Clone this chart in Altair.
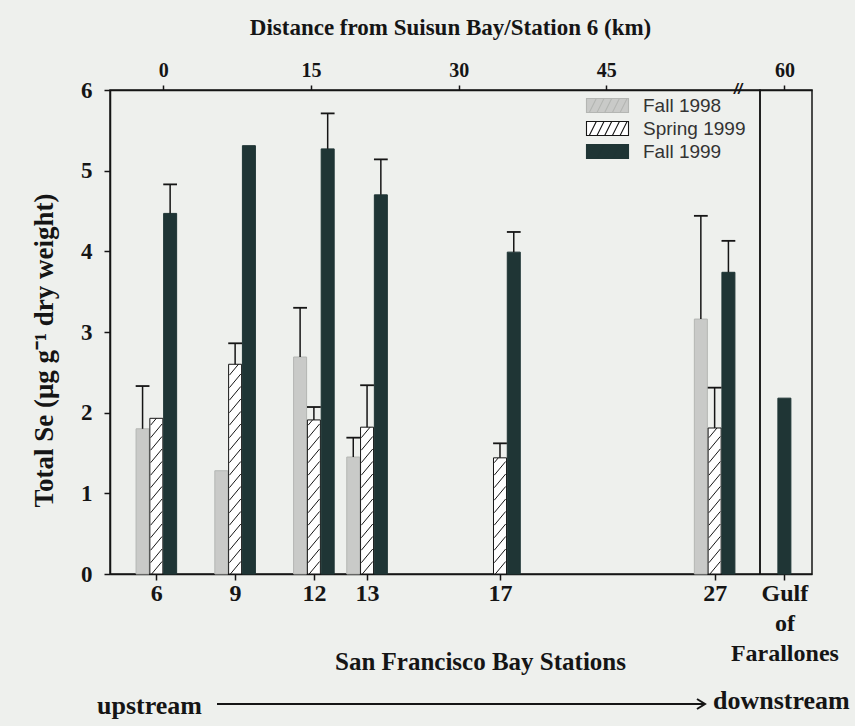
import altair as alt
import pandas as pd

# ---------------- data ----------------
stations = ["6", "9", "12", "13", "17", "27"]
distance_km = [-0.7, 7.3, 15.3, 20.7, 34.2, 56.0]
seasons = ["Fall 1998", "Spring 1999", "Fall 1999"]
fall_1998 = [1.80, 1.28, 2.69, 1.45, None, 3.16]
fall_1998_err = [2.33, None, 3.30, 1.69, None, 4.44]
spring_1999 = [1.93, 2.60, 1.91, 1.82, 1.44, 1.81]
spring_1999_err = [None, 2.86, 2.07, 2.34, 1.62, 2.31]
fall_1999 = [4.47, 5.31, 5.27, 4.70, 3.99, 3.74]
fall_1999_err = [4.83, None, 5.71, 5.14, 4.24, 4.13]

gulf_label = ["Gulf", "of", "Farallones"]
gulf_distance_km = [60]
gulf_fall_1999 = [2.18]

top_ticks = [0, 15, 30, 45]
y_ticks = [0, 1, 2, 3, 4, 5, 6]

fill_colors = ["#c9cac8", "#ffffff", "#1f3535"]
stroke_colors = ["#b4b6b3", "#151515", "#1f3535"]

rows = []
for i, st in enumerate(stations):
    for s, vals, errs in zip(seasons,
                             [fall_1998, spring_1999, fall_1999],
                             [fall_1998_err, spring_1999_err, fall_1999_err]):
        if vals[i] is None:
            continue
        rows.append(dict(station=st, dist=distance_km[i], season=s,
                         value=vals[i], err=errs[i]))
df = pd.DataFrame(rows)

gdf = pd.DataFrame({"dist": gulf_distance_km, "season": ["Fall 1999"],
                    "value": gulf_fall_1999})

# ---------------- styling ----------------
SERIF = "Liberation Serif"
INK = "#151515"
BG = "#eef0ed"

xs_main = alt.Scale(domain=[-4.9, 60.1], nice=False, zero=False)
xs_gulf = alt.Scale(domain=[57.6, 62.8], nice=False, zero=False)
ys = alt.Scale(domain=[0, 6], nice=False)

label_map = "{" + ",".join("'%g':'%s'" % (d, s) for d, s in zip(distance_km, stations)) + "}"

bottom_axis = alt.Axis(values=distance_km, labelExpr=label_map + "[datum.value]",
                       title="San Francisco Bay Stations", titleX=370, titleY=87,
                       titleBaseline="middle", titleAnchor="middle",
                       labelFontSize=24, titleFontSize=25, grid=False,
                       tickSize=6, labelPadding=1)
top_axis = alt.Axis(orient="top", values=top_ticks, format="d",
                    title="Distance from Suisun Bay/Station 6 (km)",
                    titleX=340, titleY=-63, titleBaseline="middle", titleAnchor="middle",
                    labelFontSize=20, titleFontSize=23, grid=False,
                    tickSize=5, labelPadding=5)
y_axis = alt.Axis(values=y_ticks, title="Total Se (\u03bcg g\u207b\u00b9 dry weight)",
                  titleX=-66, titleY=260, titleBaseline="middle", titleAnchor="middle",
                  labelFontSize=23, titleFontSize=27, grid=False, tickSize=6,
                  labelPadding=12)

offset_expr = ("datum.dist + (datum.season == 'Fall 1998' ? -1.4 : "
               "(datum.season == 'Fall 1999' ? 1.4 : 0))")

legend_path = ("M-3,-1H3V1H-3Z"
               "M-2.6,1L-1.6,-1M-1.5,1L-0.5,-1M-0.4,1L0.6,-1M0.7,1L1.7,-1M1.8,1L2.8,-1")

legend = alt.Legend(orient="none", legendX=488, legendY=6, title=None,
                    symbolType=legend_path, symbolSize=196, symbolStrokeWidth=1.1,
                    labelOffset=26, labelFont="Liberation Sans", labelFontSize=19,
                    labelFontWeight="normal", labelColor="#333333", rowPadding=3,
                    padding=0)

base = alt.Chart(df).transform_calculate(xc=offset_expr)

bars = base.mark_bar(size=13, strokeWidth=1).encode(
    x=alt.X("xc:Q", scale=xs_main, axis=bottom_axis),
    y=alt.Y("value:Q", scale=ys, axis=y_axis),
    fill=alt.Fill("season:N", scale=alt.Scale(domain=seasons, range=fill_colors),
                  legend=legend),
    stroke=alt.Stroke("season:N", scale=alt.Scale(domain=seasons, range=stroke_colors),
                      legend=legend),
)

hatch = (base.transform_filter("datum.season == 'Spring 1999'")
         .transform_calculate(h="sequence(-0.17, datum.value, 0.155)")
         .transform_flatten(["h"])
         .transform_calculate(y1="max(datum.h, 0)", y2="min(datum.h + 0.17, datum.value)")
         .transform_filter("datum.y2 > datum.y1")
         .transform_calculate(
             x1="datum.xc - 0.58 + 1.16 * (datum.y1 - datum.h) / 0.17",
             x2="datum.xc - 0.58 + 1.16 * (datum.y2 - datum.h) / 0.17")
         .mark_rule(color=INK, strokeWidth=1)
         .encode(x=alt.X("x1:Q", scale=xs_main, axis=None), x2="x2:Q",
                 y=alt.Y("y1:Q", scale=ys, axis=None), y2="y2:Q"))

errs = base.transform_filter("isValid(datum.err)")
err_rules = errs.mark_rule(color=INK, strokeWidth=1.5).encode(
    x=alt.X("xc:Q", scale=xs_main, axis=top_axis),
    y=alt.Y("value:Q", scale=ys, axis=None), y2="err:Q")
err_caps = (errs.transform_calculate(xl="datum.xc - 0.7", xr="datum.xc + 0.7")
            .mark_rule(color=INK, strokeWidth=1.8)
            .encode(x=alt.X("xl:Q", scale=xs_main, axis=None), x2="xr:Q",
                    y=alt.Y("err:Q", scale=ys, axis=None)))

ann = pd.DataFrame({"a": [0]})
brk = alt.Chart(ann).mark_text(text="//", font="Liberation Sans", fontSize=15,
                               fontWeight="bold", fontStyle="italic", color=INK,
                               baseline="middle", align="center").encode(
    x=alt.value(628), y=alt.value(-1))
up_txt = alt.Chart(ann).mark_text(text="upstream", font=SERIF, fontSize=26,
                                  fontWeight="bold", color=INK, align="left",
                                  baseline="middle").encode(
    x=alt.value(-13), y=alt.value(616))
down_txt = alt.Chart(ann).mark_text(text="downstream", font=SERIF, fontSize=26,
                                    fontWeight="bold", color=INK, align="left",
                                    baseline="middle").encode(
    x=alt.value(603), y=alt.value(611))
arrow_line = alt.Chart(ann).mark_rule(color=INK, strokeWidth=2).encode(
    x=alt.value(107), x2=alt.value(594), y=alt.value(614))
arrow_head = alt.Chart(ann).mark_point(shape="M-1.6,-1L0,0L-1.6,1", filled=False,
                                       color=INK, strokeWidth=2, size=100,
                                       opacity=1).encode(
    x=alt.value(595), y=alt.value(614))

main = (alt.layer(bars, hatch, err_rules, err_caps, brk, up_txt, down_txt,
                  arrow_line, arrow_head)
        .resolve_axis(x="independent", y="independent")
        .properties(width=650, height=484))

gulf_axis = alt.Axis(values=gulf_distance_km, labelExpr="%r" % gulf_label,
                     title=None, labelFontSize=24, labelLineHeight=30,
                     grid=False, tickSize=6, labelPadding=1)
gulf_top = alt.Axis(orient="top", values=gulf_distance_km, format="d", title=None,
                    labelFontSize=20, grid=False, tickSize=5, labelPadding=5)

gulf_bars = alt.Chart(gdf).mark_bar(size=13, strokeWidth=1).encode(
    x=alt.X("dist:Q", scale=xs_gulf, axis=gulf_axis),
    y=alt.Y("value:Q", scale=ys, axis=None),
    fill=alt.Fill("season:N", scale=alt.Scale(domain=seasons, range=fill_colors),
                  legend=None),
    stroke=alt.Stroke("season:N", scale=alt.Scale(domain=seasons, range=stroke_colors),
                      legend=None),
)
gulf_topl = alt.Chart(gdf).mark_point(opacity=0).encode(
    x=alt.X("dist:Q", scale=xs_gulf, axis=gulf_top),
    y=alt.Y("value:Q", scale=ys, axis=None))

gulf = alt.layer(gulf_bars, gulf_topl).resolve_axis(x="independent").properties(
    width=52, height=484)

chart = (alt.hconcat(main, gulf, spacing=0, bounds="flush")
         .resolve_scale(x="independent", y="independent", fill="shared", stroke="shared")
         .properties(background=BG, padding={"left": 29, "top": 15, "right": 4, "bottom": 6})
         .configure_view(stroke=INK, strokeWidth=1.5)
         .configure_axis(labelFont=SERIF, labelFontWeight="bold", labelColor=INK,
                         titleFont=SERIF, titleFontWeight="bold", titleColor=INK,
                         domainColor=INK, domainWidth=1.5, tickColor=INK, tickWidth=1.5))

chart.save("out.html", embed_options={"renderer": "svg", "actions": False})
